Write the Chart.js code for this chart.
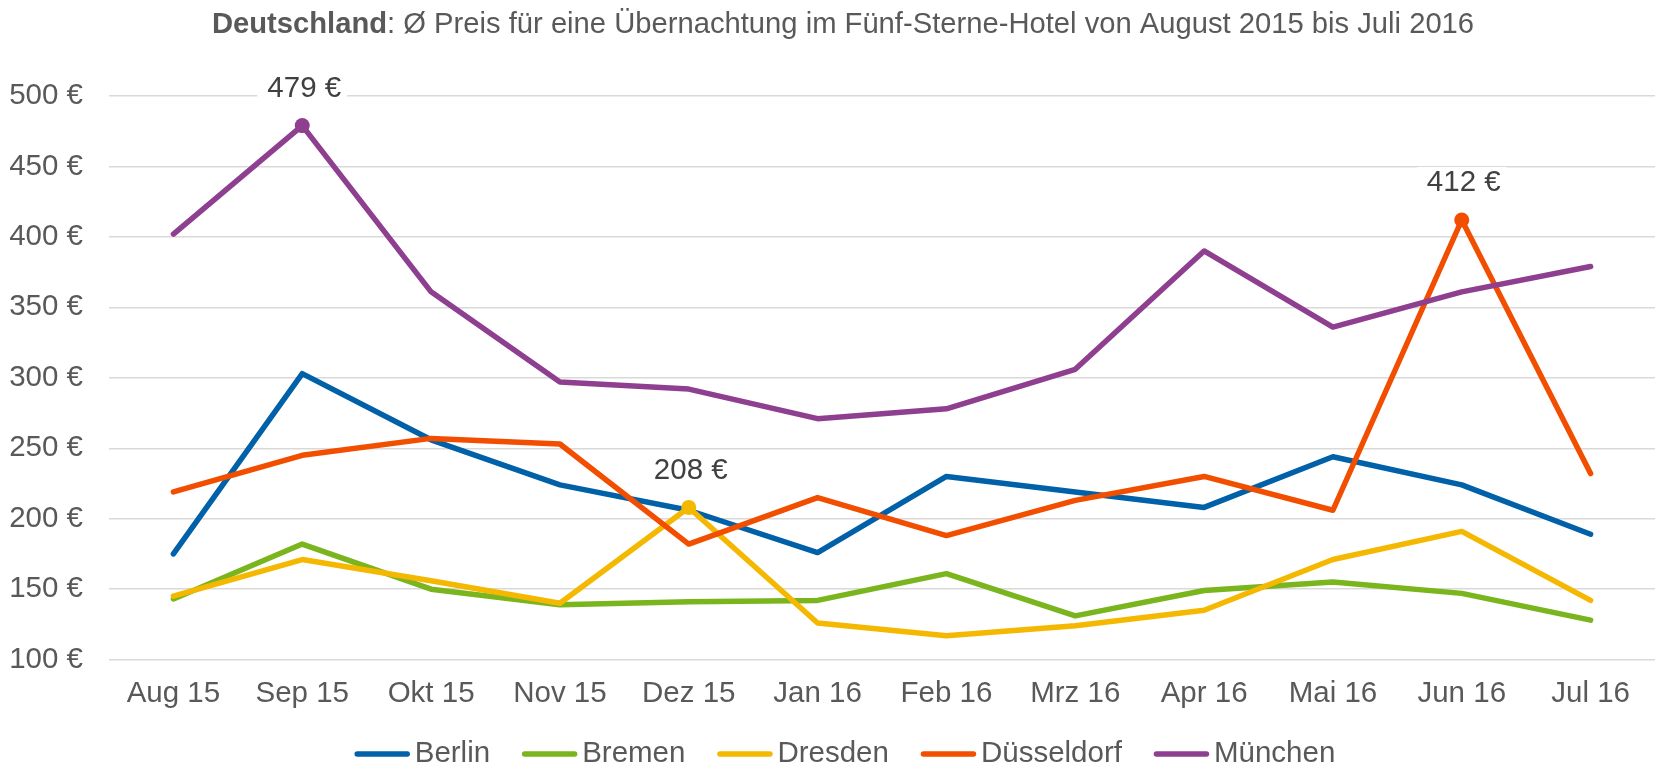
<!DOCTYPE html>
<html>
<head>
<meta charset="utf-8">
<script src="https://cdn.jsdelivr.net/npm/chart.js@4.4.0/dist/chart.umd.min.js"></script>
<style>
  html, body { margin: 0; padding: 0; background: #ffffff; }
  #wrap { width: 1655px; height: 763px; }
</style>
</head>
<body>
<div id="wrap"><canvas id="line-chart" width="1655" height="763"></canvas></div>
<script>
const months = ["Aug 15", "Sep 15", "Okt 15", "Nov 15", "Dez 15", "Jan 16", "Feb 16", "Mrz 16", "Apr 16", "Mai 16", "Jun 16", "Jul 16"];

const berlin     = [175, 303, 256, 224, 206, 176, 230, 219, 208, 244, 224, 189];
const bremen     = [143, 182, 150, 139, 141, 142, 161, 131, 149, 155, 147, 128];
const dresden    = [145, 171, 156, 140, 208, 126, 117, 124, 135, 171, 191, 142];
const duesseldorf = [219, 245, 257, 253, 182, 215, 188, 213, 230, 206, 412, 232];
const muenchen   = [402, 479, 361, 297, 292, 271, 278, 306, 390, 336, 361, 379];

const cities = ["Berlin", "Bremen", "Dresden", "Düsseldorf", "München"];
const colors = ["#0060A8", "#7AB51D", "#F5B800", "#F24E00", "#8E3F8F"];
// which month gets a marker + value label (null = none)
const labelIndex = [null, null, 4, 10, 1];

const yMin = 100;
const yMax = 500;
const yStep = 50;

const FONT = 'Arial, "Liberation Sans", sans-serif';
const TEXT = "#595959";
const SIZE = 29.5;

Chart.defaults.font.family = FONT;
Chart.defaults.color = TEXT;

const series = [berlin, bremen, dresden, duesseldorf, muenchen];

const datasets = series.map((values, i) => ({
  label: cities[i],
  data: values,
  borderColor: colors[i],
  backgroundColor: colors[i],
  borderWidth: 5.5,
  borderCapStyle: "round",
  borderJoinStyle: "round",
  tension: 0,
  pointRadius: values.map((v, j) => (j === labelIndex[i] ? 7.5 : 0)),
  pointHoverRadius: values.map((v, j) => (j === labelIndex[i] ? 7.5 : 0)),
  pointBorderWidth: 0,
  pointBackgroundColor: colors[i],
  order: series.length - i,
}));

// title with bold country name
const titlePlugin = {
  id: "mixedTitle",
  afterDraw(chart) {
    const ctx = chart.ctx;
    const bold = "Deutschland";
    const rest = ": Ø Preis für eine Übernachtung im Fünf-Sterne-Hotel von August 2015 bis Juli 2016";
    ctx.save();
    ctx.textBaseline = "middle";
    ctx.font = "bold 29.2px " + FONT;
    const wb = ctx.measureText(bold).width;
    ctx.font = "29.2px " + FONT;
    const wr = ctx.measureText(rest).width;
    let x = 843 - (wb + wr) / 2;
    ctx.fillStyle = TEXT;
    ctx.font = "bold 29.2px " + FONT;
    ctx.fillText(bold, x, 25);
    ctx.font = "29.2px " + FONT;
    ctx.fillText(rest, x + wb, 25);
    ctx.restore();
  },
};

// value labels above highlighted points
const valueLabels = {
  id: "valueLabels",
  afterDatasetsDraw(chart) {
    const ctx = chart.ctx;
    ctx.save();
    ctx.font = SIZE + "px " + FONT;
    ctx.textAlign = "center";
    ctx.textBaseline = "middle";
    chart.data.datasets.forEach((ds, i) => {
      const idx = labelIndex[i];
      if (idx === null) return;
      const pt = chart.getDatasetMeta(i).data[idx];
      const txt = ds.data[idx] + " €";
      const w = ctx.measureText(txt).width;
      const y = pt.y - 37;
      ctx.fillStyle = "#ffffff";
      ctx.fillRect(pt.x - w / 2 - 8, y - 16, w + 16, 32);
      ctx.fillStyle = "#404040";
      ctx.fillText(txt, pt.x + 2, y);
    });
    ctx.restore();
  },
};

// legend drawn by hand: short thick line, small gap, name
const lineLegend = {
  id: "lineLegend",
  afterDraw(chart) {
    const ctx = chart.ctx;
    const lineW = 55, gap = 5, spacing = 32, y = 754;
    ctx.save();
    ctx.font = SIZE + "px " + FONT;
    ctx.textBaseline = "middle";
    const widths = cities.map((c) => ctx.measureText(c).width);
    const total = widths.reduce((a, b) => a + b, 0) + cities.length * (lineW + gap) + (cities.length - 1) * spacing;
    let x = 845 - total / 2;
    cities.forEach((c, i) => {
      ctx.strokeStyle = colors[i];
      ctx.lineWidth = 5.5;
      ctx.lineCap = "round";
      ctx.beginPath();
      ctx.moveTo(x + 2.5, y);
      ctx.lineTo(x + lineW - 2.5, y);
      ctx.stroke();
      x += lineW + gap;
      ctx.fillStyle = TEXT;
      ctx.fillText(c, x, y);
      x += widths[i] + spacing;
    });
    ctx.restore();
  },
};

const config = {
  type: "line",
  data: { labels: months, datasets: datasets },
  options: {
    responsive: false,
    animation: false,
    layout: { padding: { left: 10, right: 0, top: 96, bottom: 34 } },
    plugins: {
      legend: { display: false },
      title: { display: false },
      tooltip: { enabled: false },
    },
    scales: {
      x: {
        offset: true,
        grid: { display: false, drawTicks: false },
        border: { display: false },
        ticks: { font: { size: SIZE }, color: TEXT, padding: 17, maxRotation: 0, autoSkip: false },
      },
      y: {
        min: yMin,
        max: yMax,
        grid: { color: "#D9D9D9", lineWidth: 1.5, drawTicks: false },
        border: { display: false },
        ticks: {
          stepSize: yStep,
          font: { size: SIZE },
          color: TEXT,
          padding: 26,
          callback: (v) => v + " €",
        },
        afterFit: (scale) => { scale.width = 99; },
      },
    },
  },
  plugins: [titlePlugin, valueLabels, lineLegend],
};

new Chart(document.getElementById("line-chart").getContext("2d"), config);
</script>
</body>
</html>
